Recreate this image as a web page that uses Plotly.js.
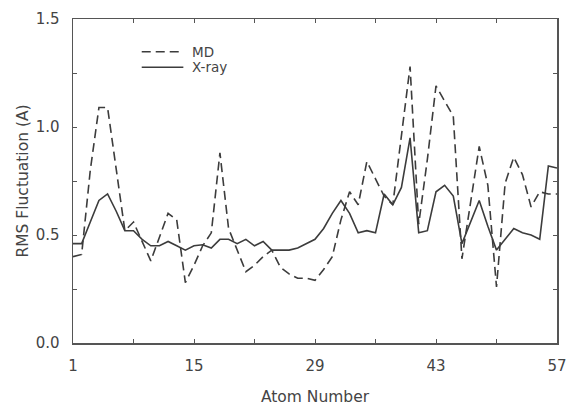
<!DOCTYPE html>
<html>
<head>
<meta charset="utf-8">
<script src="https://cdn.plot.ly/plotly-3.0.1.min.js"></script>
<style>html,body{margin:0;padding:0;background:#fff;}#chart{width:569px;height:412px;}</style>
</head>
<body>
<div id="chart"></div>
<script>
// Atom numbers 1..57
const atoms = [1,2,3,4,5,6,7,8,9,10,11,12,13,14,15,16,17,18,19,20,21,22,23,24,25,26,27,28,29,30,31,32,33,34,35,36,37,38,39,40,41,42,43,44,45,46,47,48,49,50,51,52,53,54,55,56,57];
// MD RMS fluctuation (dashed)
const mdValues = [0.40,0.41,0.80,1.09,1.09,0.80,0.52,0.56,0.47,0.38,0.49,0.60,0.57,0.28,0.36,0.45,0.51,0.88,0.53,0.43,0.33,0.36,0.40,0.43,0.35,0.32,0.30,0.30,0.29,0.34,0.40,0.57,0.70,0.64,0.84,0.76,0.68,0.64,0.95,1.28,0.55,0.85,1.19,1.12,1.05,0.39,0.65,0.91,0.73,0.26,0.74,0.86,0.78,0.63,0.70,0.69,0.69];
// X-ray RMS fluctuation (solid)
const xrayValues = [0.46,0.46,0.56,0.66,0.69,0.61,0.52,0.52,0.48,0.45,0.45,0.47,0.45,0.43,0.45,0.455,0.44,0.48,0.48,0.46,0.48,0.45,0.47,0.43,0.43,0.43,0.44,0.46,0.48,0.53,0.60,0.66,0.60,0.51,0.52,0.51,0.69,0.64,0.72,0.95,0.51,0.52,0.70,0.73,0.68,0.46,0.56,0.66,0.54,0.43,0.48,0.53,0.51,0.50,0.48,0.82,0.81];
const seriesNames = ['MD', 'X-ray'];
const xTickVals = [1,15,29,43,57];
const xTickText = ["1","15","29","43","57"];
const yTickVals = [0,0.5,1.0,1.5];
const yTickText = ["0.0","0.5","1.0","1.5"];

const ink = '#3c3c3c';
const mdDash = '9px,5px';
const traces = [
  {x: atoms, y: mdValues, name: seriesNames[0], mode: 'lines', type: 'scatter', showlegend: false,
   line: {color: ink, width: 1.6, dash: mdDash}},
  {x: atoms, y: xrayValues, name: seriesNames[1], mode: 'lines', type: 'scatter', showlegend: false,
   line: {color: ink, width: 1.6}}
];
const fam = 'DejaVu Sans, Arial, sans-serif';
const axisFont = {family: fam, size: 15, color: '#444'};
const titleFont = {family: fam, size: 15.5, color: '#444'};
const legendFont = {family: fam, size: 13.5, color: '#444'};
// key (legend) drawn in paper coordinates
const keyX0 = 0.142, keyX1 = 0.228, keyTextX = 0.242;
const keyY = [0.899, 0.851];
const layout = {
  width: 569, height: 412,
  margin: {l: 73, r: 12, t: 19, b: 69},
  paper_bgcolor: '#fff', plot_bgcolor: '#fff',
  font: axisFont,
  showlegend: false,
  shapes: [
    {type: 'line', xref: 'paper', yref: 'paper', x0: keyX0, x1: keyX1, y0: keyY[0], y1: keyY[0],
     line: {color: ink, width: 1.6, dash: mdDash}},
    {type: 'line', xref: 'paper', yref: 'paper', x0: keyX0, x1: keyX1, y0: keyY[1], y1: keyY[1],
     line: {color: ink, width: 1.6}}
  ],
  annotations: [
    {xref: 'paper', yref: 'paper', x: keyTextX, y: keyY[0], text: seriesNames[0], showarrow: false,
     xanchor: 'left', yanchor: 'middle', font: legendFont},
    {xref: 'paper', yref: 'paper', x: keyTextX, y: keyY[1], text: seriesNames[1], showarrow: false,
     xanchor: 'left', yanchor: 'middle', font: legendFont}
  ],
  xaxis: {
    range: [1, 57], tickvals: xTickVals, ticktext: xTickText,
    ticks: 'inside', ticklen: 4, tickcolor: '#555', mirror: 'ticks',
    showline: true, linecolor: '#555', linewidth: 1.5, showgrid: false, zeroline: false,
    minor: {tickvals: [8,22,36,50], ticks: 'inside', ticklen: 4, tickcolor: '#555'},
    ticklabelstandoff: 8,
    title: {text: 'Atom Number', font: titleFont, standoff: 17}
  },
  yaxis: {
    range: [0, 1.5], tickvals: yTickVals, ticktext: yTickText,
    ticks: 'inside', ticklen: 4, tickcolor: '#555', mirror: 'ticks',
    showline: true, linecolor: '#555', linewidth: 1.5, showgrid: false, zeroline: false,
    minor: {tickvals: [0.25,0.75,1.25], ticks: 'inside', ticklen: 4, tickcolor: '#555'},
    ticklabelstandoff: 9,
    title: {text: 'RMS Fluctuation (A)', font: titleFont, standoff: 3}
  }
};
Plotly.newPlot('chart', traces, layout, {displayModeBar: false, staticPlot: true});
</script>
</body>
</html>
